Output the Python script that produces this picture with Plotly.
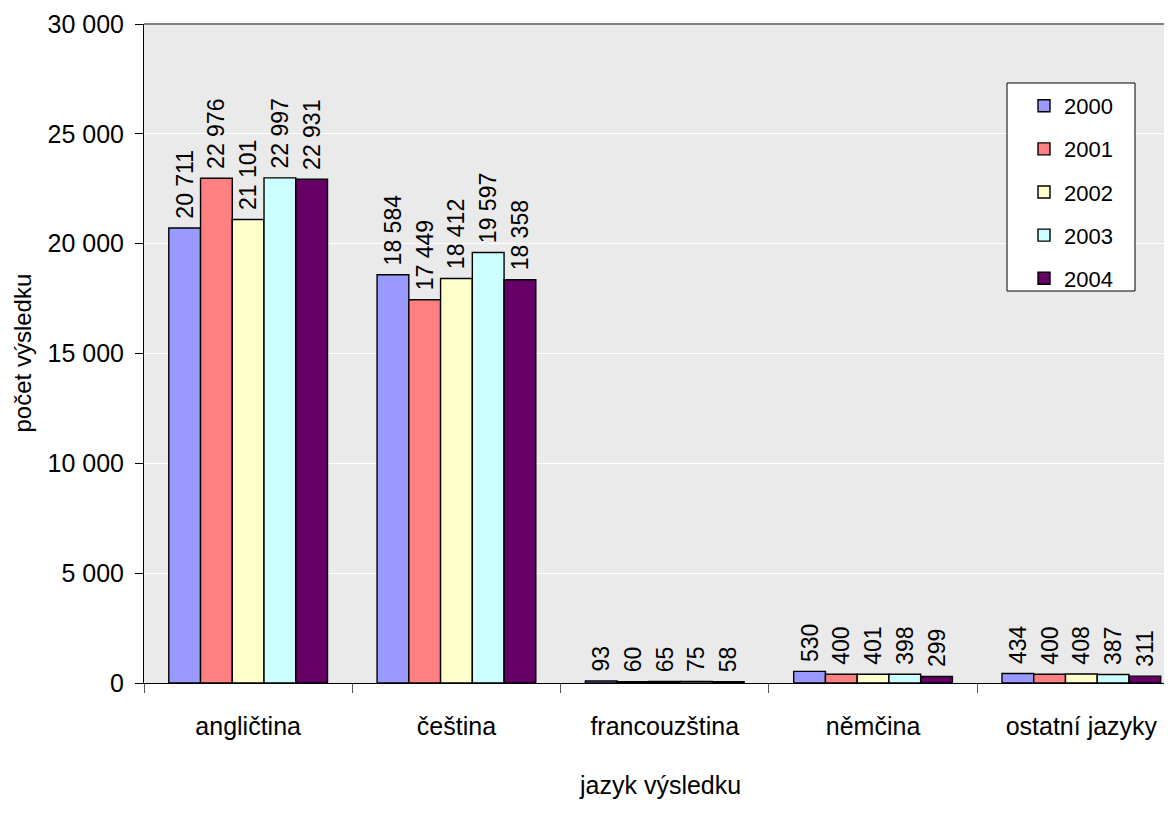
import plotly.graph_objects as go

categories = ["angličtina", "čeština", "francouzština", "němčina", "ostatní jazyky"]
years = ["2000", "2001", "2002", "2003", "2004"]
v2000 = [20711, 18584, 93, 530, 434]
v2001 = [22976, 17449, 60, 400, 400]
v2002 = [21101, 18412, 65, 401, 408]
v2003 = [22997, 19597, 75, 398, 387]
v2004 = [22931, 18358, 58, 299, 311]
series = [v2000, v2001, v2002, v2003, v2004]
colors = ["#9999FF", "#FF8080", "#FFFFCC", "#CCFFFF", "#660066"]
y_ticks = [0, 5000, 10000, 15000, 20000, 25000, 30000]

FONT = "Liberation Sans, Arial, sans-serif"

# page has an 8px body margin; figure is shifted by (8, 8)
OFF = 8
W, H = 1172 - OFF, 825 - OFF
PLOT_L, PLOT_T, PLOT_B = 144, 24, 683  # page pixel coords
L = PLOT_L - OFF
T = PLOT_T - OFF
B = H - (PLOT_B - OFF)
R = 0
PW = W - L - R
PH = H - T - B
CAT_PX = 208.3


def px_x(px):
    return (px - PLOT_L) / PW


def px_y(py):
    return (PLOT_B - py) / PH


def fmt(v):
    return "\u00a0" + f"{v:,}".replace(",", "\u00a0")


fig = go.Figure()
for name, vals, col in zip(years, series, colors):
    fig.add_trace(go.Bar(
        name=name, x=categories, y=vals,
        marker=dict(color=col, line=dict(color="black", width=1.4)),
        text=[fmt(v) for v in vals], textposition="outside", textangle=-90,
        textfont=dict(family=FONT, size=23, color="black"),
        constraintext="none", cliponaxis=False,
        legendgroup=name,
    ))

# legend box
fig.add_shape(type="rect", xref="paper", yref="paper",
              x0=px_x(1007), x1=px_x(1135), y0=px_y(291), y1=px_y(83),
              fillcolor="white", line=dict(color="black", width=1), layer="above")
# top border of plot area
fig.add_shape(type="line", xref="paper", yref="paper", x0=0, x1=1, y0=1, y1=1,
              line=dict(color="#808080", width=2), layer="above")

fig.add_annotation(text="počet výsledku", xref="paper", yref="paper",
                   x=px_x(22), y=0.5, textangle=-90, showarrow=False,
                   xanchor="center", yanchor="middle",
                   font=dict(family=FONT, size=24, color="black"))
fig.add_annotation(text="jazyk výsledku", xref="paper", yref="paper",
                   x=px_x(660), y=px_y(785), showarrow=False,
                   xanchor="center", yanchor="middle",
                   font=dict(family=FONT, size=25, color="black"))

fig.update_layout(
    width=W, height=H,
    margin=dict(l=L, r=R, t=T, b=B, pad=0),
    paper_bgcolor="white", plot_bgcolor="#EAEAEA",
    barmode="group", bargap=0.238, bargroupgap=0,
    separators=", ",
    font=dict(family=FONT, color="black"),
    showlegend=True,
    legend=dict(x=px_x(1024), y=px_y(85), xanchor="left", yanchor="top",
                bgcolor="rgba(0,0,0,0)", borderwidth=0,
                font=dict(family=FONT, size=22, color="black"),
                tracegroupgap=11.5, traceorder="grouped"),
    xaxis=dict(range=[-0.5, -0.5 + PW / CAT_PX], showline=True, linecolor="black",
               linewidth=1, ticks="outside", tickson="boundaries", ticklen=9,
               tickcolor="#555555", showgrid=False, ticklabelstandoff=21,
               tickfont=dict(family=FONT, size=25, color="black"), fixedrange=True),
    yaxis=dict(range=[0, 30000], tickvals=y_ticks, tickformat=",d",
               showline=True, linecolor="black", linewidth=1, ticks="outside",
               ticklen=8, tickcolor="black", showgrid=True, gridcolor="white",
               gridwidth=1, zeroline=False, ticklabelstandoff=6,
               tickfont=dict(family=FONT, size=25, color="black")),
)

fig.write_html("out.html")
